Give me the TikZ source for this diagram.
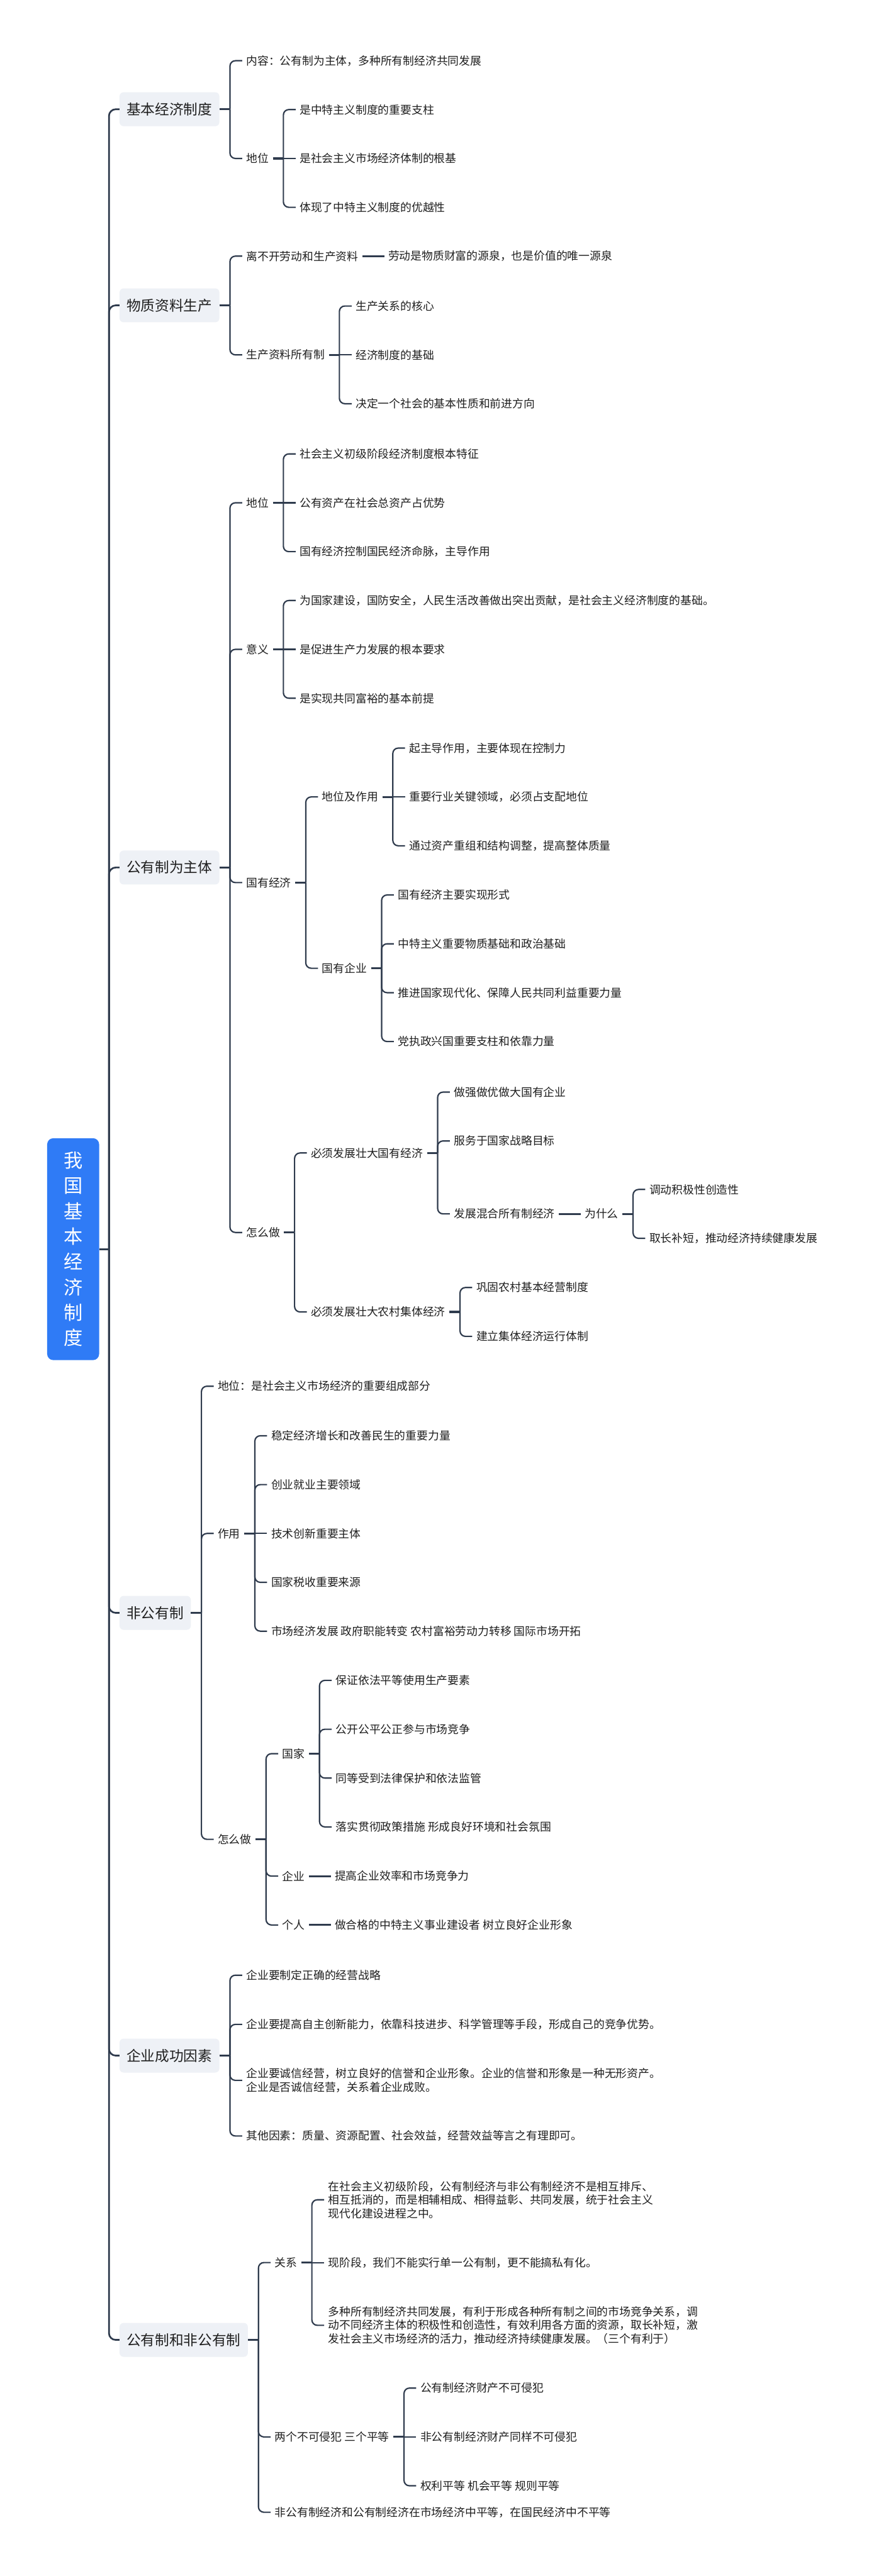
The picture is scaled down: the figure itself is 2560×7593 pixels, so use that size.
\documentclass[tikz,border=0pt]{standalone}
\usepackage{fontspec}
\setmainfont{Noto Sans CJK SC}
\usepackage{tikz}
\usetikzlibrary{calc,positioning}
\definecolor{rootblue}{HTML}{2F7BF6}
\definecolor{topicgray}{HTML}{EEF1F6}
\definecolor{linkgray}{HTML}{2F3B4D}
\definecolor{inkgray}{HTML}{1F1F1F}

\begin{document}
\begin{tikzpicture}[x=1pt,y=-1pt,
		root/.style={rectangle,rounded corners=18pt,fill=rootblue,text=white,font=\fontsize{56}{74.7}\selectfont,minimum width=153pt,minimum height=654pt,align=center,inner sep=0pt},
		topic/.style={rectangle,rounded corners=12pt,fill=topicgray,text=inkgray,anchor=west,inner xsep=21pt,minimum height=100pt,font=\fontsize{42}{50}\selectfont},
		txt/.style={anchor=west,inner xsep=12pt,inner ysep=4pt,text=inkgray,align=left,font=\fontsize{33}{40}\selectfont},
		link/.style={draw=linkgray,line width=4pt,rounded corners=16pt},
		stub/.style={draw=linkgray,line width=6pt},
		trunk/.style={draw=linkgray,line width=5pt,rounded corners=20pt}
		]
		\useasboundingbox (0,0) rectangle (2560,7593);
		\fill[white] (0,0) rectangle (2560,7593);
		\node[root] (root) at (215.5,3682) {我\\国\\基\\本\\经\\济\\制\\度};
		\node[topic] (A) at (352,322) {基本经济制度};
		\node[topic] (B) at (352,900) {物质资料生产};
		\node[topic] (C) at (352,2557) {公有制为主体};
		\node[topic] (D) at (352,4754) {非公有制};
		\node[topic] (E) at (352,6059) {企业成功因素};
		\node[topic] (F) at (352,6897) {公有制和非公有制};
		\draw[stub] (root.east) -- (321,3682) coordinate (rootj);
		\foreach \t in {A,B,C,D,E,F} \draw[trunk] (rootj) |- (\t.west);
		% 基本经济制度
		\node[txt] (a1) at ($(A.east |- 0,179)+(67,0)$) {内容：公有制为主体，多种所有制经济共同发展};
		\node[txt] (a2) at ($(A.east |- 0,467)+(67,0)$) {地位};
		\node[txt] (a21) at ($(a2.east |- 0,323)+(67,0)$) {是中特主义制度的重要支柱};
		\node[txt] (a22) at ($(a2.east |- 0,467)+(67,0)$) {是社会主义市场经济体制的根基};
		\node[txt] (a23) at ($(a2.east |- 0,611)+(67,0)$) {体现了中特主义制度的优越性};
		\draw[stub] (A.east) -- ++(31,0) coordinate (Aj);
		\foreach \k in {a1,a2} \draw[link] (Aj) |- (\k.west);
		\draw[stub] (a2.east) -- ++(31,0) coordinate (a2j);
		\foreach \k in {a21,a23} \draw[link] (a2j) |- (\k.west);
		\draw[link] (a2j) -- (a22.west);
		% 物质资料生产
		\node[txt] (b1) at ($(B.east |- 0,755)+(67,0)$) {离不开劳动和生产资料};
		\node[txt] (b11) at ($(b1.east)+(64,0)$) {劳动是物质财富的源泉，也是价值的唯一源泉};
		\node[txt] (b2) at ($(B.east |- 0,1046)+(67,0)$) {生产资料所有制};
		\node[txt] (b21) at ($(b2.east |- 0,902)+(67,0)$) {生产关系的核心};
		\node[txt] (b22) at ($(b2.east |- 0,1046)+(67,0)$) {经济制度的基础};
		\node[txt] (b23) at ($(b2.east |- 0,1190)+(67,0)$) {决定一个社会的基本性质和前进方向};
		\draw[stub] (B.east) -- ++(31,0) coordinate (Bj);
		\foreach \k in {b1,b2} \draw[link] (Bj) |- (\k.west);
		\draw[stub] (b1.east) -- (b11.west);
		\draw[stub] (b2.east) -- ++(31,0) coordinate (b2j);
		\foreach \k in {b21,b23} \draw[link] (b2j) |- (\k.west);
		\draw[link] (b2j) -- (b22.west);
		% 公有制为主体
		\node[txt] (c1) at ($(C.east |- 0,1482)+(67,0)$) {地位};
		\node[txt] (c11) at ($(c1.east |- 0,1338)+(67,0)$) {社会主义初级阶段经济制度根本特征};
		\node[txt] (c12) at ($(c1.east |- 0,1482)+(67,0)$) {公有资产在社会总资产占优势};
		\node[txt] (c13) at ($(c1.east |- 0,1626)+(67,0)$) {国有经济控制国民经济命脉，主导作用};
		\node[txt] (c2) at ($(C.east |- 0,1914)+(67,0)$) {意义};
		\node[txt] (c21) at ($(c2.east |- 0,1770)+(67,0)$) {为国家建设，国防安全，人民生活改善做出突出贡献，是社会主义经济制度的基础。};
		\node[txt] (c22) at ($(c2.east |- 0,1914)+(67,0)$) {是促进生产力发展的根本要求};
		\node[txt] (c23) at ($(c2.east |- 0,2058)+(67,0)$) {是实现共同富裕的基本前提};
		\node[txt] (c3) at ($(C.east |- 0,2601.5)+(67,0)$) {国有经济};
		\node[txt] (c31) at ($(c3.east |- 0,2349)+(67,0)$) {地位及作用};
		\node[txt] (c311) at ($(c31.east |- 0,2205)+(67,0)$) {起主导作用，主要体现在控制力};
		\node[txt] (c312) at ($(c31.east |- 0,2349)+(67,0)$) {重要行业关键领域，必须占支配地位};
		\node[txt] (c313) at ($(c31.east |- 0,2493)+(67,0)$) {通过资产重组和结构调整，提高整体质量};
		\node[txt] (c32) at ($(c3.east |- 0,2854)+(67,0)$) {国有企业};
		\node[txt] (c321) at ($(c32.east |- 0,2638)+(67,0)$) {国有经济主要实现形式};
		\node[txt] (c322) at ($(c32.east |- 0,2782)+(67,0)$) {中特主义重要物质基础和政治基础};
		\node[txt] (c323) at ($(c32.east |- 0,2926)+(67,0)$) {推进国家现代化、保障人民共同利益重要力量};
		\node[txt] (c324) at ($(c32.east |- 0,3070)+(67,0)$) {党执政兴国重要支柱和依靠力量};
		\node[txt] (c4) at ($(C.east |- 0,3632.75)+(67,0)$) {怎么做};
		\node[txt] (c41) at ($(c4.east |- 0,3398.5)+(67,0)$) {必须发展壮大国有经济};
		\node[txt] (c411) at ($(c41.east |- 0,3219)+(67,0)$) {做强做优做大国有企业};
		\node[txt] (c412) at ($(c41.east |- 0,3363)+(67,0)$) {服务于国家战略目标};
		\node[txt] (c413) at ($(c41.east |- 0,3578)+(67,0)$) {发展混合所有制经济};
		\node[txt] (why) at ($(c413.east)+(64,0)$) {为什么};
		\node[txt] (why1) at ($(why.east |- 0,3506)+(67,0)$) {调动积极性创造性};
		\node[txt] (why2) at ($(why.east |- 0,3650)+(67,0)$) {取长补短，推动经济持续健康发展};
		\node[txt] (c42) at ($(c4.east |- 0,3867)+(67,0)$) {必须发展壮大农村集体经济};
		\node[txt] (c421) at ($(c42.east |- 0,3795)+(67,0)$) {巩固农村基本经营制度};
		\node[txt] (c422) at ($(c42.east |- 0,3939)+(67,0)$) {建立集体经济运行体制};
		\draw[stub] (C.east) -- ++(31,0) coordinate (Cj);
		\foreach \k in {c1,c2,c3,c4} \draw[link] (Cj) |- (\k.west);
		\draw[stub] (c1.east) -- ++(31,0) coordinate (c1j);
		\foreach \k in {c11,c13} \draw[link] (c1j) |- (\k.west);
		\draw[link] (c1j) -- (c12.west);
		\draw[stub] (c2.east) -- ++(31,0) coordinate (c2j);
		\foreach \k in {c21,c23} \draw[link] (c2j) |- (\k.west);
		\draw[link] (c2j) -- (c22.west);
		\draw[stub] (c3.east) -- ++(31,0) coordinate (c3j);
		\foreach \k in {c31,c32} \draw[link] (c3j) |- (\k.west);
		\draw[stub] (c31.east) -- ++(31,0) coordinate (c31j);
		\foreach \k in {c311,c313} \draw[link] (c31j) |- (\k.west);
		\draw[link] (c31j) -- (c312.west);
		\draw[stub] (c32.east) -- ++(31,0) coordinate (c32j);
		\foreach \k in {c321,c322,c323,c324} \draw[link] (c32j) |- (\k.west);
		\draw[stub] (c4.east) -- ++(31,0) coordinate (c4j);
		\foreach \k in {c41,c42} \draw[link] (c4j) |- (\k.west);
		\draw[stub] (c41.east) -- ++(31,0) coordinate (c41j);
		\foreach \k in {c411,c412,c413} \draw[link] (c41j) |- (\k.west);
		\draw[stub] (c413.east) -- (why.west);
		\draw[stub] (why.east) -- ++(31,0) coordinate (whyj);
		\foreach \k in {why1,why2} \draw[link] (whyj) |- (\k.west);
		\draw[stub] (c42.east) -- ++(31,0) coordinate (c42j);
		\foreach \k in {c421,c422} \draw[link] (c42j) |- (\k.west);
		% 非公有制
		\node[txt] (d1) at ($(D.east |- 0,4086)+(67,0)$) {地位：是社会主义市场经济的重要组成部分};
		\node[txt] (d2) at ($(D.east |- 0,4520)+(67,0)$) {作用};
		\node[txt] (d21) at ($(d2.east |- 0,4232)+(67,0)$) {稳定经济增长和改善民生的重要力量};
		\node[txt] (d22) at ($(d2.east |- 0,4376)+(67,0)$) {创业就业主要领域};
		\node[txt] (d23) at ($(d2.east |- 0,4520)+(67,0)$) {技术创新重要主体};
		\node[txt] (d24) at ($(d2.east |- 0,4664)+(67,0)$) {国家税收重要来源};
		\node[txt] (d25) at ($(d2.east |- 0,4808)+(67,0)$) {市场经济发展 政府职能转变 农村富裕劳动力转移 国际市场开拓};
		\node[txt] (d3) at ($(D.east |- 0,5421.5)+(67,0)$) {怎么做};
		\node[txt] (d31) at ($(d3.east |- 0,5169)+(67,0)$) {国家};
		\node[txt] (d311) at ($(d31.east |- 0,4953)+(67,0)$) {保证依法平等使用生产要素};
		\node[txt] (d312) at ($(d31.east |- 0,5097)+(67,0)$) {公开公平公正参与市场竞争};
		\node[txt] (d313) at ($(d31.east |- 0,5241)+(67,0)$) {同等受到法律保护和依法监管};
		\node[txt] (d314) at ($(d31.east |- 0,5385)+(67,0)$) {落实贯彻政策措施 形成良好环境和社会氛围};
		\node[txt] (d32) at ($(d3.east |- 0,5530)+(67,0)$) {企业};
		\node[txt] (d321) at ($(d32.east)+(64,0)$) {提高企业效率和市场竞争力};
		\node[txt] (d33) at ($(d3.east |- 0,5674)+(67,0)$) {个人};
		\node[txt] (d331) at ($(d33.east)+(64,0)$) {做合格的中特主义事业建设者 树立良好企业形象};
		\draw[stub] (D.east) -- ++(31,0) coordinate (Dj);
		\foreach \k in {d1,d2,d3} \draw[link] (Dj) |- (\k.west);
		\draw[stub] (d2.east) -- ++(31,0) coordinate (d2j);
		\foreach \k in {d21,d22,d24,d25} \draw[link] (d2j) |- (\k.west);
		\draw[link] (d2j) -- (d23.west);
		\draw[stub] (d3.east) -- ++(31,0) coordinate (d3j);
		\foreach \k in {d31,d32,d33} \draw[link] (d3j) |- (\k.west);
		\draw[stub] (d31.east) -- ++(31,0) coordinate (d31j);
		\foreach \k in {d311,d312,d313,d314} \draw[link] (d31j) |- (\k.west);
		\draw[stub] (d32.east) -- (d321.west);
		\draw[stub] (d33.east) -- (d331.west);
		% 企业成功因素
		\node[txt] (e1) at ($(E.east |- 0,5822)+(67,0)$) {企业要制定正确的经营战略};
		\node[txt] (e2) at ($(E.east |- 0,5967)+(67,0)$) {企业要提高自主创新能力，依靠科技进步、科学管理等手段，形成自己的竞争优势。};
		\node[txt] (e3) at ($(E.east |- 0,6132)+(67,0)$) {企业要诚信经营，树立良好的信誉和企业形象。企业的信誉和形象是一种无形资产。\\企业是否诚信经营，关系着企业成败。};
		\node[txt] (e4) at ($(E.east |- 0,6296)+(67,0)$) {其他因素：质量、资源配置、社会效益，经营效益等言之有理即可。};
		\draw[stub] (E.east) -- ++(31,0) coordinate (Ej);
		\foreach \k in {e1,e2,e3,e4} \draw[link] (Ej) |- (\k.west);
		% 公有制和非公有制
		\node[txt] (f1) at ($(F.east |- 0,6669)+(67,0)$) {关系};
		\node[txt] (f11) at ($(f1.east |- 0,6484)+(67,0)$) {在社会主义初级阶段，公有制经济与非公有制经济不是相互排斥、\\相互抵消的，而是相辅相成、相得益彰、共同发展，统于社会主义\\现代化建设进程之中。};
		\node[txt] (f12) at ($(f1.east |- 0,6669)+(67,0)$) {现阶段，我们不能实行单一公有制，更不能搞私有化。};
		\node[txt] (f13) at ($(f1.east |- 0,6854)+(67,0)$) {多种所有制经济共同发展，有利于形成各种所有制之间的市场竞争关系，调\\动不同经济主体的积极性和创造性，有效利用各方面的资源，取长补短，激\\发社会主义市场经济的活力，推动经济持续健康发展。（三个有利于）};
		\node[txt] (f2) at ($(F.east |- 0,7183)+(67,0)$) {两个不可侵犯 三个平等};
		\node[txt] (f21) at ($(f2.east |- 0,7039)+(67,0)$) {公有制经济财产不可侵犯};
		\node[txt] (f22) at ($(f2.east |- 0,7183)+(67,0)$) {非公有制经济财产同样不可侵犯};
		\node[txt] (f23) at ($(f2.east |- 0,7327)+(67,0)$) {权利平等 机会平等 规则平等};
		\node[txt] (f3) at ($(F.east |- 0,7405)+(67,0)$) {非公有制经济和公有制经济在市场经济中平等，在国民经济中不平等};
		\draw[stub] (F.east) -- ++(31,0) coordinate (Fj);
		\foreach \k in {f1,f2,f3} \draw[link] (Fj) |- (\k.west);
		\draw[stub] (f1.east) -- ++(31,0) coordinate (f1j);
		\foreach \k in {f11,f13} \draw[link] (f1j) |- (\k.west);
		\draw[link] (f1j) -- (f12.west);
		\draw[stub] (f2.east) -- ++(31,0) coordinate (f2j);
		\foreach \k in {f21,f23} \draw[link] (f2j) |- (\k.west);
		\draw[link] (f2j) -- (f22.west);
	\end{tikzpicture}
\end{document}
